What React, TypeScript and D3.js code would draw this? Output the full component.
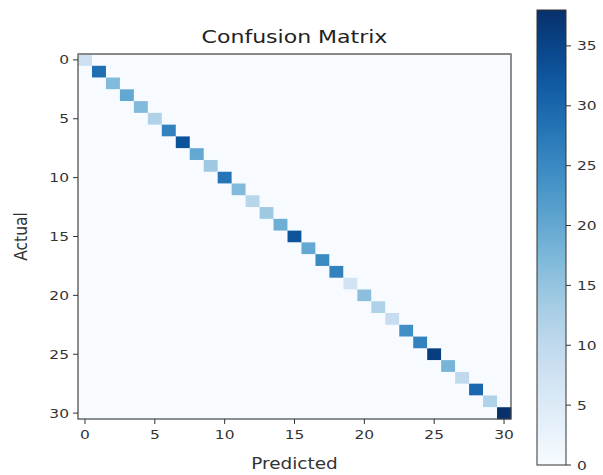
import React from "react";
import * as d3 from "d3";

const classes: number[] = d3.range(31);
const diagonal: number[] = [8, 29, 17, 20, 17, 12, 26, 33, 20, 14, 28, 17, 11, 14, 19, 33, 20, 25, 26, 7, 16, 12, 9, 24, 26, 36, 18, 10, 30, 12, 38];
const axisTicks: number[] = [0, 5, 10, 15, 20, 25, 30];
const colorbarTicks: number[] = [0, 5, 10, 15, 20, 25, 30, 35];
const vmax = 38;
const SX = 1.19;

function T(props: { x: number; y: number; size: number; anchor?: string; children: React.ReactNode; fill?: string }) {
  return (
    <text
      transform={`translate(${props.x},${props.y}) scale(${SX},1)`}
      textAnchor={props.anchor || "start"}
      fontSize={props.size}
      fill={props.fill || "#333"}
    >
      {props.children}
    </text>
  );
}

export default function App() {
  const W = 603, H = 475;
  const left = 78, right = 511, top = 54, bottom = 419;
  const x = d3.scaleBand<number>().domain(classes).range([left, right]);
  const y = d3.scaleBand<number>().domain(classes).range([top, bottom]);
  const color = (v: number) => d3.interpolateBlues(v / vmax);

  const cells: { r: number; c: number; v: number }[] = [];
  classes.forEach((r) => classes.forEach((c) => cells.push({ r, c, v: r === c ? diagonal[r] : 0 })));

  const cbX = 537, cbW = 29, cbTop = 10, cbBottom = 465;
  const cy = d3.scaleLinear().domain([0, vmax]).range([cbBottom, cbTop]);
  const stops = d3.range(0, 1.0001, 0.05);
  const font = "DejaVu Sans, sans-serif";
  const tc = "#333";

  return (
    <svg width={W} height={H} style={{ position: "absolute", left: 0, top: 0, background: "#fff" }} fontFamily={font}>
      <defs>
        <linearGradient id="cb" x1="0" y1="1" x2="0" y2="0">
          {stops.map((s) => (
            <stop key={s} offset={s} stopColor={d3.interpolateBlues(s)} />
          ))}
        </linearGradient>
      </defs>
      <T x={(left + right) / 2} y={43} size={18.5} anchor="middle" fill="#222">Confusion Matrix</T>
      {cells.map((d) => (
        <rect key={`${d.r}-${d.c}`} x={x(d.c)} y={y(d.r)} width={x.bandwidth() + 0.3} height={y.bandwidth() + 0.3} fill={color(d.v)} />
      ))}
      <rect x={left} y={top} width={right - left} height={bottom - top} fill="none" stroke="#444" strokeWidth={1.2} />
      <line x1={left} x2={right} y1={top} y2={top} stroke="#888" strokeWidth={2} />
      {axisTicks.map((t) => {
        const px = (x(t) as number) + x.bandwidth() / 2;
        const py = (y(t) as number) + y.bandwidth() / 2;
        return (
          <g key={t}>
            <line x1={px} x2={px} y1={bottom} y2={bottom + 5} stroke={tc} />
            <T x={px} y={bottom + 20} size={13} anchor="middle">{t}</T>
            <line x1={left - 5} x2={left} y1={py} y2={py} stroke={tc} />
            <T x={left - 9} y={py + 4.5} size={13} anchor="end">{t}</T>
          </g>
        );
      })}
      <T x={(left + right) / 2} y={469} size={15.5} anchor="middle">Predicted</T>
      <text transform={`translate(27,${(top + bottom) / 2}) rotate(-90) scale(1,${SX})`} textAnchor="middle" fontSize={15.5} fill={tc}>Actual</text>
      <rect x={cbX} y={cbTop} width={cbW} height={cbBottom - cbTop} fill="url(#cb)" stroke="#333" strokeWidth={1} />
      {colorbarTicks.map((t) => (
        <g key={t}>
          <line x1={cbX + cbW} x2={cbX + cbW + 5} y1={cy(t)} y2={cy(t)} stroke={tc} />
          <T x={cbX + cbW + 11} y={cy(t) + 4.5} size={13}>{t}</T>
        </g>
      ))}
    </svg>
  );
}
